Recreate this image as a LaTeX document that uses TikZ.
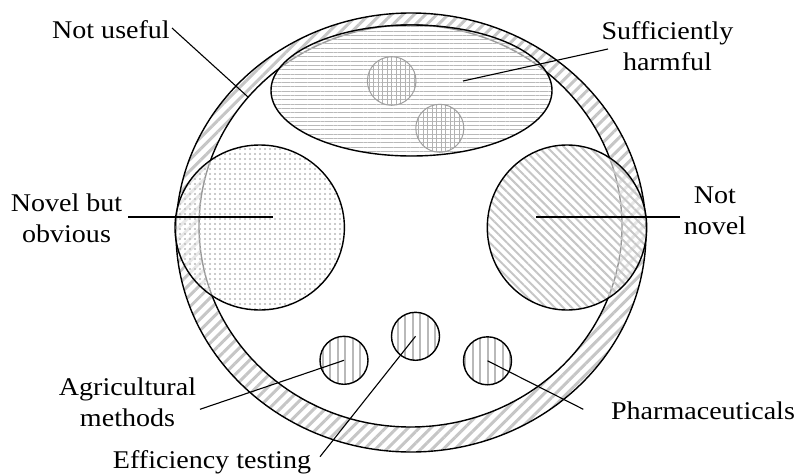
\documentclass[tikz,border=0pt]{standalone}
\usepackage{fontspec}
\setmainfont{Liberation Serif}[FakeStretch=1.1]
\usetikzlibrary{patterns.meta,calc}
\newcommand\lblfont{\fontsize{25.5}{31}\selectfont}
\begin{document}
\begin{tikzpicture}[x=1pt,y=-1pt,
  bold/.style={line width=1.4pt},
  leader/.style={line width=1.1pt},
  lbl/.style={inner sep=0pt, align=center, font=\lblfont},
  veil/.style={fill=white, fill opacity=0.6},
  ringfill/.style={pattern={Lines[angle=45,distance=8pt,line width=3pt]}, pattern color=gray!45},
  hfill/.style={pattern={Lines[angle=0,distance=4.3pt,line width=1pt]}, pattern color=gray!55},
  gridfill/.style={pattern={Lines[angle=90,distance=4.5pt,line width=1pt]}, pattern color=gray!60},
  dotfill/.style={pattern={Dots[distance=5pt,radius=1.2pt]}, pattern color=gray!55},
  diagfill/.style={pattern={Lines[angle=-45,distance=6pt,line width=2pt]}, pattern color=gray!45},
  vfill/.style={pattern={Lines[angle=90,distance=7.5pt,line width=2pt]}, pattern color=gray!55},
]
\useasboundingbox (0,0) rectangle (801,474);
% centres
\coordinate (O) at (411,232.5);
\coordinate (I) at (410.5,226);
\coordinate (E) at (411.5,90.5);
\coordinate (G1) at (391.7,81);
\coordinate (G2) at (439.8,128.3);
\coordinate (L) at (259.7,227.5);
\coordinate (R) at (567,227.5);
\coordinate (A) at (344,360.3);
\coordinate (F) at (415.5,336.3);
\coordinate (P) at (487.5,360.8);
% ring
\fill[ringfill, even odd rule] (O) ellipse [x radius=235, y radius=219.5]
  (I) ellipse [x radius=211.5, y radius=201];
\draw[bold] (O) ellipse [x radius=235, y radius=219.5];
\draw[bold] (I) ellipse [x radius=211.5, y radius=201];
% top ellipse
\fill[veil] (E) ellipse [x radius=140.5, y radius=65.5];
\fill[hfill] (E) ellipse [x radius=140.5, y radius=65.5];
\draw[bold] (E) ellipse [x radius=140.5, y radius=65.5];
\fill[gridfill] (G1) circle [radius=24.3];
\draw[gray!75, line width=1pt] (G1) circle [radius=24.3];
\fill[gridfill] (G2) circle [radius=24];
\draw[gray!75, line width=1pt] (G2) circle [radius=24];
% big circles
\fill[veil] (L) ellipse [x radius=84.7, y radius=82.5];
\fill[dotfill] (L) ellipse [x radius=84.7, y radius=82.5];
\draw[bold] (L) ellipse [x radius=84.7, y radius=82.5];
\fill[veil] (R) ellipse [x radius=79.7, y radius=82.5];
\fill[diagfill] (R) ellipse [x radius=79.7, y radius=82.5];
\draw[bold] (R) ellipse [x radius=79.7, y radius=82.5];
% bottom circles
\foreach \c in {A,F,P}{
  \fill[vfill] (\c) circle [radius=24];
  \draw[bold] (\c) circle [radius=24];
}
% labels
\node[lbl, anchor=base] (nu) at (111,38.3) {Not useful};
\node[lbl] (sh) at (667.5,46) {Sufficiently\\harmful};
\node[lbl] (nb) at (66.5,218.5) {Novel but\\obvious};
\node[lbl] (nn) at (715,210.5) {Not\\novel};
\node[lbl] (ag) at (127.5,402) {Agricultural\\methods};
\node[lbl, anchor=base] (ef) at (212,468.3) {Efficiency testing};
\node[lbl, anchor=base] (ph) at (703,419.3) {Pharmaceuticals};
% leader ends
\coordinate (nuA) at (172,28);   \coordinate (nuB) at (248,97);
\coordinate (shA) at (608,49);   \coordinate (shB) at (463,81);
\coordinate (nbA) at (128,217);  \coordinate (nbB) at (273,217);
\coordinate (nnA) at (680,217);  \coordinate (nnB) at (536,217);
\coordinate (agA) at (200,409.3);
\coordinate (efA) at (320,456.7);
\coordinate (phA) at (583.3,409.3);
\draw[leader] (nuA) -- (nuB);
\draw[leader] (shA) -- (shB);
\draw[leader] (nbA) -- (nbB);
\draw[leader] (nnA) -- (nnB);
\draw[leader] (agA) -- (A);
\draw[leader] (efA) -- (F);
\draw[leader] (P) -- (phA);
\end{tikzpicture}
\end{document}
